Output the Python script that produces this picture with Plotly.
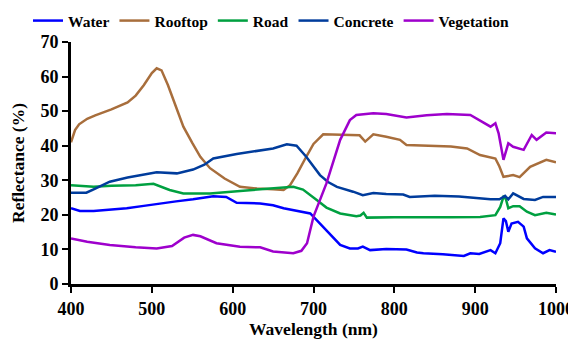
import plotly.graph_objects as go

# Water
water_wl = [400, 411, 428, 450, 469, 490, 510, 530, 551, 576, 592, 605, 634, 650, 663, 687, 696, 706, 716, 725, 733, 745, 755, 761, 770, 790, 815, 828, 836, 860, 886, 894, 905, 919, 925, 931, 935, 938, 941, 945, 953, 960, 964, 974, 984, 992, 1000]
water_val = [21.9, 21.1, 21.1, 21.5, 21.9, 22.6, 23.3, 23.9, 24.5, 25.4, 25.2, 23.5, 23.3, 22.8, 21.9, 20.9, 20.4, 18.0, 15.6, 13.2, 11.3, 10.3, 10.3, 10.8, 9.8, 10.1, 10.0, 9.1, 8.9, 8.6, 8.1, 8.9, 8.7, 9.8, 8.9, 11.8, 19.0, 18.2, 15.1, 17.5, 18.0, 16.6, 13.2, 10.3, 8.9, 9.8, 9.3]

# Rooftop
roof_wl = [400, 405, 410, 420, 430, 450, 470, 480, 490, 500, 506, 512, 520, 530, 539, 550, 560, 572, 590, 609, 630, 650, 663, 671, 680, 691, 700, 712, 730, 757, 764, 774, 790, 807, 815, 840, 870, 890, 906, 925, 930, 935, 947, 955, 968, 988, 1000]
roof_val = [41.0, 44.5, 46.2, 47.8, 48.8, 50.5, 52.5, 54.5, 57.5, 61.0, 62.4, 61.8, 57.5, 51.5, 45.5, 40.8, 36.8, 33.5, 30.5, 28.1, 27.6, 27.4, 27.2, 28.6, 32.0, 36.8, 40.5, 43.3, 43.1, 43.0, 41.2, 43.3, 42.6, 41.7, 40.2, 40.0, 39.8, 39.2, 37.3, 36.3, 34.0, 31.0, 31.5, 30.9, 33.9, 35.9, 35.2]

# Road
road_wl = [400, 428, 450, 480, 502, 512, 522, 539, 572, 613, 650, 675, 687, 696, 704, 716, 733, 753, 758, 762, 766, 800, 832, 870, 906, 925, 931, 935, 938, 941, 947, 955, 964, 974, 988, 1000]
road_val = [28.6, 28.1, 28.4, 28.6, 29.0, 28.2, 27.2, 26.2, 26.2, 27.0, 27.7, 28.1, 27.3, 25.8, 24.3, 22.1, 20.4, 19.6, 19.8, 20.6, 19.2, 19.3, 19.2, 19.3, 19.4, 19.9, 22.3, 25.2, 24.6, 21.9, 22.5, 22.5, 20.9, 19.9, 20.6, 20.1]

# Concrete
conc_wl = [400, 419, 430, 448, 470, 506, 531, 551, 565, 576, 605, 630, 650, 667, 679, 691, 700, 708, 718, 729, 749, 761, 774, 790, 811, 819, 850, 880, 919, 930, 937, 941, 947, 960, 974, 984, 1000]
conc_val = [26.4, 26.4, 27.6, 29.6, 30.8, 32.3, 32.0, 33.1, 34.5, 36.3, 37.6, 38.4, 39.2, 40.4, 40.0, 36.8, 33.8, 31.5, 29.5, 28.1, 26.7, 25.7, 26.3, 26.0, 25.9, 25.2, 25.5, 25.3, 24.5, 24.5, 25.5, 24.5, 26.2, 24.6, 24.3, 25.2, 25.2]

# Vegetation
veg_wl = [400, 420, 448, 480, 506, 525, 540, 551, 560, 580, 609, 634, 650, 675, 685, 692, 700, 716, 733, 745, 753, 774, 790, 815, 840, 865, 894, 906, 919, 925, 929, 935, 941, 947, 960, 970, 976, 988, 1000]
veg_val = [13.2, 12.2, 11.3, 10.6, 10.3, 11.0, 13.4, 14.2, 13.8, 11.8, 10.8, 10.6, 9.4, 8.9, 9.6, 11.8, 19.5, 29.1, 41.7, 47.4, 48.9, 49.4, 49.2, 48.2, 48.8, 49.2, 48.9, 47.2, 45.5, 46.5, 43.6, 35.9, 40.7, 39.7, 38.8, 43.1, 41.7, 43.8, 43.6]

names = ["Water", "Rooftop", "Road", "Concrete", "Vegetation"]
colors = ["#0000FF", "#A86E3C", "#00A040", "#003C9C", "#9E00CC"]
xs = [water_wl, roof_wl, road_wl, conc_wl, veg_wl]
ys = [water_val, roof_val, road_val, conc_val, veg_val]

x_ticks = [400, 500, 600, 700, 800, 900, 1000]
y_ticks = [0, 10, 20, 30, 40, 50, 60, 70]

FONT = "Liberation Serif"
W, H = 568, 335  # the page body adds an 8px offset
ML, MR, MT, MB = 63, 20, 34, 59
PW, PH = W - ML - MR, H - MT - MB

fig = go.Figure()
for n, c, x, y in zip(names, colors, xs, ys):
    fig.add_trace(go.Scatter(x=x, y=y, mode="lines", name=n,
                             line=dict(color=c, width=2.5)))

fig.update_layout(
    width=W, height=H,
    margin=dict(l=ML, r=MR, t=MT, b=MB, autoexpand=False),
    paper_bgcolor="white", plot_bgcolor="white",
    font=dict(family=FONT, size=17, color="black"),
    legend=dict(orientation="h", x=(20 - ML) / PW, xref="paper", xanchor="left",
                y=(H - MB + 4) / PH, yref="paper", yanchor="top",
                font=dict(family=FONT, size=15.5, color="black", weight="bold"),
                bgcolor="rgba(0,0,0,0)", itemwidth=30, tracegroupgap=0),
    xaxis=dict(range=[400, 1000], tickvals=x_ticks, ticks="outside", ticklen=6, tickwidth=2,
               tickcolor="black", showline=True, linecolor="black", linewidth=3,
               showgrid=False, zeroline=False, automargin=False,
               tickfont=dict(family=FONT, size=18, color="black", weight="bold"),
               title=dict(text="Wavelength (nm)", font=dict(family=FONT, size=17.5, weight="bold"), standoff=5)),
    yaxis=dict(range=[0, 70], tickvals=y_ticks, ticks="outside", ticklen=6, tickwidth=2,
               tickcolor="black", showline=True, linecolor="black", linewidth=3,
               showgrid=False, zeroline=False, automargin=False,
               tickfont=dict(family=FONT, size=18, color="black", weight="bold"),
               title=dict(text="Reflectance (%)", font=dict(family=FONT, size=17.5, weight="bold"), standoff=18)),
)

fig.write_html("out.html")
